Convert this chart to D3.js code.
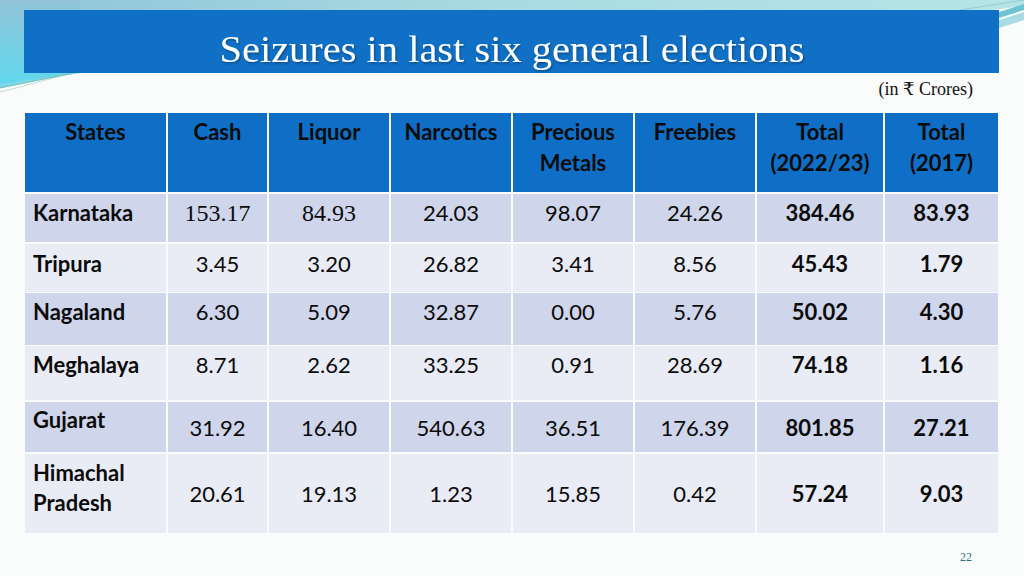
<!DOCTYPE html>
<html><head><meta charset="utf-8">
<script src="https://cdn.jsdelivr.net/npm/d3@7"></script>
<style>
html,body{margin:0;padding:0;background:#fafbfb;}
svg{display:block;}
</style></head>
<body>
<svg id="c" width="1024" height="576"></svg>
<script>
// ---- data ----
const title = "Seizures in last six general elections";
const unitNote = "(in ₹ Crores)";
const headers = [["States"],["Cash"],["Liquor"],["Narcotics"],["Precious","Metals"],["Freebies"],["Total","(2022/23)"],["Total","(2017)"]];
const states = [["Karnataka"],["Tripura"],["Nagaland"],["Meghalaya"],["Gujarat"],["Himachal","Pradesh"]];
const cash      = ["153.17","3.45","6.30","8.71","31.92","20.61"];
const liquor    = ["84.93","3.20","5.09","2.62","16.40","19.13"];
const narcotics = ["24.03","26.82","32.87","33.25","540.63","1.23"];
const precious  = ["98.07","3.41","0.00","0.91","36.51","15.85"];
const freebies  = ["24.26","8.56","5.76","28.69","176.39","0.42"];
const total2223 = ["384.46","45.43","50.02","74.18","801.85","57.24"];
const total2017 = ["83.93","1.79","4.30","1.16","27.21","9.03"];
const pageNo = "22";

// ---- layout / style ----
const colEdges = [25,167,268,390,512,634,756,884,999];
const headerBand = [113,192];
const rowBands = [[194,242],[244,292],[293,345],[346,400],[402,452],[454,533]];
const valueY = [213,264,312,365,428,494];
const labelY = [[213],[264],[312],[365],[420],[473,503]];
const boldCols = new Set([6,7]);
const serifCells = new Set(["0-1","0-2"]);
const sans = "Lato, 'Open Sans', sans-serif";
const serif = "'Liberation Serif', 'DejaVu Serif', serif";
const fs = 22;

const svg = d3.select("#c");

// background decorations
const defs = svg.append("defs");
const g1 = defs.append("linearGradient").attr("id","gl").attr("x1","0").attr("y1","0").attr("x2","0").attr("y2","1");
g1.append("stop").attr("offset","0").attr("stop-color","#93c3d8");
g1.append("stop").attr("offset","1").attr("stop-color","#5fd9ee");
const g2 = defs.append("linearGradient").attr("id","gt").attr("x1","0").attr("y1","0").attr("x2","1").attr("y2","0");
g2.append("stop").attr("offset","0").attr("stop-color","#8fc4d9");
g2.append("stop").attr("offset","0.5").attr("stop-color","#a8dce2");
g2.append("stop").attr("offset","1").attr("stop-color","#b6e4e6");
const sh = defs.append("filter").attr("id","sh").attr("x","-5%").attr("y","-20%").attr("width","110%").attr("height","140%");
sh.append("feDropShadow").attr("dx",1).attr("dy",1.5).attr("stdDeviation",1).attr("flood-color","#000").attr("flood-opacity",0.35);

svg.append("rect").attr("width",1024).attr("height",576).attr("fill","#fafbfb");
svg.append("path").attr("d","M0,0 L1024,0 L1024,6 L960,14 L0,22 Z").attr("fill","url(#gt)");
svg.append("path").attr("d","M0,0 L80,0 L80,73 L0,86 Z").attr("fill","url(#gl)");
svg.append("path").attr("d","M0,88 L72,73 L0,84 Z").attr("fill","#7fd6e6");
svg.append("path").attr("d","M0,88 C30,82 50,78 72,73").attr("fill","none").attr("stroke","#5fb8a8").attr("stroke-width",0.8);
svg.append("path").attr("d","M0,92 C25,86 45,80 72,73").attr("fill","none").attr("stroke","#9fbfc0").attr("stroke-width",0.6);
svg.append("path").attr("d","M999,18 L1024,10 L1024,4 L999,12 Z").attr("fill","#6ec4d2");
svg.append("path").attr("d","M999,28 L1024,20 L1024,12 L999,20 Z").attr("fill","#a8dce4");
svg.append("path").attr("d","M960,10 L1024,0").attr("stroke","#7fb8c4").attr("stroke-width",0.6);

// title bar
svg.append("rect").attr("x",24).attr("y",10).attr("width",975).attr("height",63).attr("fill","#1070c6");
svg.append("text").attr("x",512).attr("y",62).attr("text-anchor","middle")
  .attr("font-family","'Liberation Serif', serif").attr("font-size",37).attr("fill","#fff")
  .attr("filter","url(#sh)").attr("textLength",585).attr("lengthAdjust","spacingAndGlyphs").text(title);
svg.append("text").attr("x",973).attr("y",95).attr("text-anchor","end")
  .attr("font-family",serif).attr("font-size",18).attr("fill","#111").text(unitNote);

// header
const hdr = svg.append("g");
headers.forEach((h,i)=>{
  const x0 = colEdges[i] + (i===0?0:1), x1 = colEdges[i+1] - 1;
  hdr.append("rect").attr("x",x0).attr("y",headerBand[0]).attr("width",x1-x0).attr("height",headerBand[1]-headerBand[0]).attr("fill","#0f6fc6");
  h.forEach((line,j)=>{
    hdr.append("text").attr("x",(x0+x1)/2).attr("y",140+j*31).attr("text-anchor","middle")
      .attr("font-family",sans).attr("font-weight",700).attr("font-size",fs).attr("fill","#0b0b0b").text(line);
  });
});

// body
const cols = [cash,liquor,narcotics,precious,freebies,total2223,total2017];
const body = svg.append("g");
states.forEach((s,r)=>{
  const [y0,y1] = rowBands[r];
  const fill = r%2===0 ? "#cfd5ea" : "#e9ebf5";
  colEdges.slice(0,-1).forEach((e,i)=>{
    const x0 = e + (i===0?0:1), x1 = colEdges[i+1] - 1;
    body.append("rect").attr("x",x0).attr("y",y0).attr("width",x1-x0).attr("height",y1-y0).attr("fill",fill);
  });
  s.forEach((line,j)=>{
    body.append("text").attr("x",33).attr("y",labelY[r][j]+8).attr("font-family",sans).attr("font-weight",700)
      .attr("font-size",fs).attr("fill","#0b0b0b").text(line);
  });
  cols.forEach((arr,c)=>{
    const i = c+1;
    const cx = (colEdges[i]+colEdges[i+1])/2;
    const isSerif = serifCells.has(r+"-"+i);
    body.append("text").attr("x",cx).attr("y",valueY[r]+8).attr("text-anchor","middle")
      .attr("font-family",isSerif?serif:sans).attr("font-size",isSerif?24:fs)
      .attr("font-weight",boldCols.has(i)?700:400).attr("fill","#0b0b0b").text(arr[r]);
  });
});

svg.append("text").attr("x",966).attr("y",561).attr("text-anchor","middle").attr("font-family",serif)
  .attr("font-size",12).attr("fill","#2e6e80").text(pageNo);
</script>
</body></html>
